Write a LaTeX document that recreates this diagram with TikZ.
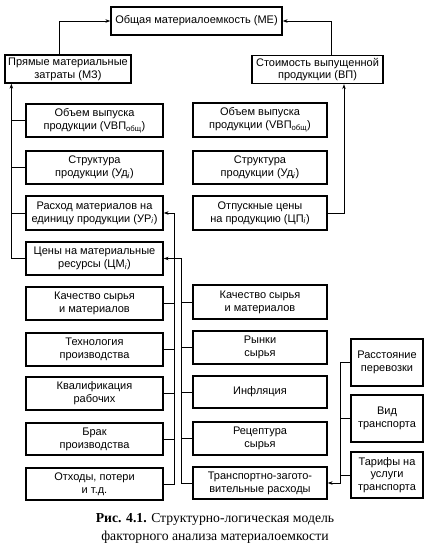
\documentclass[tikz,border=0pt]{standalone}
\usepackage{fontspec}
\setmainfont{Liberation Serif}
\setsansfont{Liberation Sans}
\usetikzlibrary{arrows.meta}
\begin{document}
\begin{tikzpicture}
    [
        x=1pt, y=-1pt,
        box/.style={rectangle, draw, line width=1.3pt, align=center, inner sep=0pt,
            font=\sffamily\fontsize{11}{12.8}\selectfont},
        topbox/.style={box, minimum height=28pt},
        leftbox/.style={box, minimum width=137pt, minimum height=33pt},
        midbox/.style={box, minimum width=134pt, minimum height=33pt},
        rightbox/.style={box, minimum width=72pt, minimum height=47pt},
        link/.style={line width=0.8pt},
        arr/.style={link, -{Stealth[length=5pt, width=3.5pt]}},
    ]
    \useasboundingbox (0,0) rectangle (434,549);

    % upper level
    \node (me) at (196.5,21) [topbox, minimum width=171pt] {Общая материалоемкость (МЕ)};
    \node (mz) at (68,69) [topbox, minimum width=126pt] {Прямые материальные\\затраты (МЗ)};
    \node (vp) at (317.5,69.5) [topbox, minimum width=131pt] {Стоимость выпущенной\\продукции (ВП)};

    % first level factors
    \node (vob1) at (94.5,120.5) [leftbox] {Объем выпуска\\продукции (VВП\textsubscript{общ})};
    \node (ud1) at (94.5,167.5) [leftbox] {Структура\\продукции (Уд\textsubscript{\textit{i}})};
    \node (ur) at (94.5,213) [leftbox, minimum height=34pt] {Расход материалов на\\единицу продукции (УР\textsubscript{\textit{i}})};
    \node (cm) at (94.5,258.5) [leftbox] {Цены на материальные\\ресурсы (ЦМ\textsubscript{\textit{i}})};

    \node (vob2) at (260,120) [midbox, minimum height=34pt] {Объем выпуска\\продукции (VВП\textsubscript{общ})};
    \node (ud2) at (260,167.5) [midbox] {Структура\\продукции (Уд\textsubscript{\textit{i}})};
    \node (cp) at (260,213) [midbox, minimum height=34pt] {Отпускные цены\\на продукцию (ЦП\textsubscript{\textit{i}})};

    % second level factors
    \node (kach1) at (94.5,303.5) [leftbox] {Качество сырья\\и материалов};
    \node (tech) at (94.5,349.5) [leftbox] {Технология\\производства};
    \node (kval) at (94.5,393.5) [leftbox] {Квалификация\\рабочих};
    \node (brak) at (94.5,439) [leftbox, minimum height=32pt] {Брак\\производства};
    \node (otx) at (94.5,484) [leftbox, minimum height=32pt] {Отходы, потери\\и т.д.};

    \node (kach2) at (260,302) [midbox, minimum height=34pt] {Качество сырья\\и материалов};
    \node (rynki) at (260,347.5) [midbox] {Рынки\\сырья};
    \node (infl) at (260,392) [midbox, minimum height=32pt] {Инфляция};
    \node (rec) at (260,438.5) [midbox] {Рецептура\\сырья};
    \node (tzr) at (260,483) [midbox, minimum height=32pt] {Транспортно-загото-\\вительные расходы};

    \node (ras) at (387,362.5) [rightbox] {Расстояние\\перевозки};
    \node (vid) at (387,418.5) [rightbox] {Вид\\транспорта};
    \node (tar) at (387,475) [rightbox, minimum height=46pt] {Тарифы на\\услуги\\транспорта};

    % connectors
    \draw[arr] ([xshift=-9pt]mz.north) |- (me.west);
    \draw[arr] ([xshift=13.5pt]vp.north) |- (me.east);

    \coordinate (lbus) at ([xshift=7pt]mz.south west);
    \draw[arr] (cm.west) -| (lbus);
    \draw[link] (vob1.west) -- (vob1.west -| lbus);
    \draw[link] (ud1.west) -- (ud1.west -| lbus);
    \draw[link] (ur.west) -- (ur.west -| lbus);

    \draw[arr] (cp.east) -| ([xshift=26.5pt]vp.south);

    \draw[arr] (otx.east) -- ++(11,0) |- (ur.east);
    \draw[link] (kach1.east) -- ++(11,0);
    \draw[link] (tech.east) -- ++(11,0);
    \draw[link] (kval.east) -- ++(11,0);
    \draw[link] (brak.east) -- ++(11,0);

    \draw[arr] (tzr.west) -- ++(-11,0) |- (cm.east);
    \draw[link] (kach2.west) -- ++(-11,0);
    \draw[link] (rynki.west) -- ++(-11,0);
    \draw[link] (infl.west) -- ++(-11,0);
    \draw[link] (rec.west) -- ++(-11,0);

    \draw[arr] (ras.west) -- ++(-10,0) |- (tzr.east);
    \draw[link] (vid.west) -- ++(-10,0);
    \draw[link] (tar.west) -- ++(-10,0);

    % caption
    \node (cap) at (215,528) [align=center, font=\fontsize{13.7}{18}\selectfont]
        {\textbf{Рис. 4.1.} Структурно-логическая модель\\факторного анализа материалоемкости};
\end{tikzpicture}
\end{document}
